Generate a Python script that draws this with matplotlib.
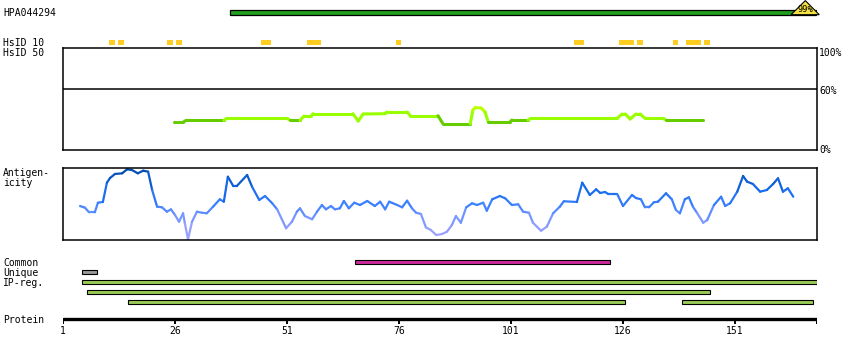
import numpy as np
import matplotlib.pyplot as plt
from matplotlib.collections import LineCollection
from matplotlib.colors import LinearSegmentedColormap

plt.rcParams['font.family'] = ['DejaVu Sans Mono', 'DejaVu Sans']
plt.rcParams['font.size'] = 7

# ---- data (residue positions / values) ----
protein_len = 169.3
tick_residues = [1, 26, 51, 76, 101, 126, 151]

antigen_name = 'HPA044294'
antigen_start, antigen_end = 38.3, 169.0
antigen_identity = '99%'

hsid10_starts = [11.3, 13.3, 24.2, 26.2, 45.2, 55.4, 75.3, 115.1, 125.1, 129.1, 137.2, 140.1, 144.1]
hsid10_ends = [12.6, 14.6, 25.6, 27.6, 47.4, 58.5, 76.4, 117.3, 128.5, 130.5, 138.3, 143.4, 145.4]

# HsID 50 identity curve (percent)
ident_res = [25.8, 27.8, 28.5, 36.9, 37.6, 51.0, 51.7, 53.9, 54.8, 56.4, 56.8, 65.7, 66.9,
             68.0, 72.9, 73.3, 77.8, 78.5, 84.7, 85.8, 91.9, 92.5, 93.0, 94.3, 95.2, 95.9,
             100.8, 101.2, 104.8, 105.5, 124.7, 125.8, 126.5, 127.6, 128.9, 129.8, 130.9,
             134.9, 135.6, 143.9]
ident_pct = [27.2, 27.2, 29.1, 29.1, 31.1, 31.1, 29.1, 29.1, 33.3, 33.3, 35.6, 35.6, 28.4,
             35.3, 35.6, 37.3, 37.3, 33.6, 33.6, 25.8, 25.8, 39.2, 41.5, 41.2, 37.3, 27.7,
             27.7, 29.4, 29.4, 31.1, 31.1, 35.3, 35.3, 30.4, 35.3, 35.3, 31.1,
             31.1, 29.4, 29.4]

# antigenicity profile (0-100 scale of the panel)
antig_res = [4.8, 5.9, 6.8, 8.1, 8.8, 9.9, 10.8, 11.5, 12.6, 14.2, 15.3, 16.4, 17.7, 18.9,
             20.0, 20.9, 22.0, 23.1, 24.2, 25.1, 26.0, 26.9, 27.8, 28.2, 28.9, 29.8, 30.9,
             32.0, 33.1, 34.5, 36.0, 36.9, 37.8, 39.0, 39.8, 42.1, 43.2, 44.8, 46.1, 47.7,
             48.8, 50.8, 52.1, 53.2, 53.9, 55.0, 56.6, 57.7, 58.8, 59.7, 60.8, 61.7, 62.8,
             63.7, 64.8, 66.0, 67.3, 68.9, 70.6, 71.8, 72.9, 73.8, 75.6, 76.7, 77.8, 78.9,
             79.8, 80.9, 82.0, 83.1, 84.3, 85.6, 86.7, 87.8, 88.7, 89.8, 91.0, 92.3, 93.4,
             94.8, 95.6, 96.8, 98.5, 99.7, 101.2, 102.6, 103.7, 105.0, 105.9, 107.7, 109.0,
             110.4, 111.9, 112.8, 115.7, 116.9, 118.6, 120.0, 120.9, 122.0, 122.7, 124.7,
             126.0, 128.0, 128.9, 130.0, 130.9, 131.8, 132.9, 133.8, 135.6, 136.9, 137.8,
             138.7, 139.8, 140.7, 141.6, 142.5, 143.9, 144.8, 146.3, 147.9, 148.8, 149.9,
             151.5, 152.8, 153.7, 155.0, 156.6, 158.1, 159.5, 160.6, 161.7, 162.8, 164.0]
antig_val = [47.2, 44.9, 38.5, 38.5, 51.8, 52.8, 79.6, 86.1, 91.7, 92.6, 98.2, 97.2, 92.6, 96.3,
             94.9, 69.4, 46.3, 45.4, 39.3, 42.6, 34.7, 25.4, 37.1, 23.2, 1.0, 25.4, 39.3,
             37.9, 37.1, 46.3, 56.5, 53.2, 87.9, 75.0, 75.0, 90.3, 74.0, 55.6, 61.1, 51.0,
             42.6, 16.3, 25.4, 39.3, 44.0, 33.3, 28.8, 39.3, 48.6, 42.6, 47.2, 42.6, 44.0,
             54.2, 44.0, 51.8, 48.6, 54.2, 47.2, 53.2, 42.6, 53.2, 48.6, 45.4, 54.6, 44.0,
             37.9, 36.1, 17.6, 13.9, 6.9, 8.3, 11.5, 20.8, 33.3, 24.0, 45.4, 51.0, 48.6,
             51.8, 40.7, 56.5, 61.1, 57.9, 48.6, 49.6, 39.3, 37.9, 24.0, 12.9, 18.5,
             37.1, 46.3, 53.8, 52.8, 79.6, 62.5, 70.4, 65.3, 66.7, 63.9, 63.9,
             47.2, 62.5, 58.3, 56.5, 45.4, 45.4, 52.4, 53.2, 64.9, 56.5, 41.7,
             37.1, 56.5, 59.3, 46.3, 37.9, 24.0, 27.8, 48.6, 60.1, 47.2, 51.0,
             67.1, 88.9, 81.0, 77.8, 67.1, 69.4, 77.8, 85.7, 67.1, 71.8, 60.1]

common_span = (66.2, 123.1)
unique_span = (5.2, 8.5)
ipreg_starts = [5.2, 6.4, 15.4, 139.2]
ipreg_ends = [169.3, 145.4, 126.4, 168.4]
ipreg_rows = [0, 1, 2, 2]

# ---- layout (pixels) ----
W, H = 850, 360
X0, X1 = 63, 817


def rect(x0, y0, x1, y1):
    return [x0 / W, 1 - y1 / H, (x1 - x0) / W, (y1 - y0) / H]


def label(x, y, s, **kw):
    fig.text(x / W, 1 - y / H, s, va='baseline', **kw)


fig = plt.figure(figsize=(W / 100, H / 100), dpi=100)

# track axes: x in residues, y in pixels (top down)
ax = fig.add_axes(rect(X0, 0, X1, H))
ax.set_xlim(1, protein_len)
ax.set_ylim(H, 0)
ax.axis('off')

# antigen bar + identity triangle
ax.barh(12.3, antigen_end - antigen_start, left=antigen_start, height=4.4,
        color='#1f9e1f', edgecolor='black', linewidth=0.9)
tri_x = [antigen_end - 5.5, antigen_end - 2.3, antigen_end + 0.8]
ax.fill(tri_x, [14.7, 0.6, 14.7], facecolor='#f2e044', edgecolor='black',
        linewidth=0.8, clip_on=False, zorder=3)
ax.text(tri_x[1], 12.0, antigen_identity, ha='center', va='baseline', fontsize=6.2, zorder=4)

# HsID 10 blocks
ax.barh([42.3] * len(hsid10_starts), np.subtract(hsid10_ends, hsid10_starts),
        left=hsid10_starts, height=4.7, color='#ffcc22', linewidth=0)

# features
ax.barh(262.3, common_span[1] - common_span[0], left=common_span[0], height=3.8,
        color='#cc2a9c', edgecolor='black', linewidth=0.8)
ax.barh(272.3, unique_span[1] - unique_span[0], left=unique_span[0], height=4.3,
        color='#999999', edgecolor='black', linewidth=0.8)
ip_y = [282.3 + 10 * r for r in ipreg_rows]
ax.barh(ip_y, np.subtract(ipreg_ends, ipreg_starts), left=ipreg_starts, height=4.3,
        color='#99cc55', edgecolor='black', linewidth=0.8)

# protein axis
ax.plot([1, protein_len], [319.3, 319.3], color='black', linewidth=2.4, solid_capstyle='butt')
ax.vlines(tick_residues + [protein_len], 317.5, 323.5, color='black', linewidth=1.4)
for t in tick_residues:
    ax.text(t, 334.3, str(t), ha='center', va='baseline')

# HsID 50 identity panel
ax_id = fig.add_axes(rect(X0, 48, X1, 150))
ax_id.set_xlim(1, protein_len)
ax_id.set_ylim(0, 100)
ax_id.set_facecolor('none')
ax_id.set_xticks([])
ax_id.set_yticks([])
for s in ax_id.spines.values():
    s.set_linewidth(1.1)
ax_id.axhline(60, color='black', linewidth=1.1)
pts = np.column_stack([ident_res, ident_pct])
segs = np.stack([pts[:-1], pts[1:]], axis=1)
mid = (pts[:-1, 1] + pts[1:, 1]) / 2
seg_cols = np.where(mid < 30, '#66cc00', np.where(mid < 39, '#99ff00', '#bbff00'))
ax_id.add_collection(LineCollection(segs, colors=seg_cols, linewidths=2.2, capstyle='round'))

label(X1 + 2, 55.7, '100%')
label(X1 + 2, 94.0, '60%')
label(X1 + 2, 153.3, '0%')

# antigenicity panel
ax_ag = fig.add_axes(rect(X0, 168, X1, 240))
ax_ag.set_xlim(1, protein_len)
ax_ag.set_ylim(0, 100)
ax_ag.set_facecolor('none')
ax_ag.set_xticks([])
ax_ag.set_yticks([])
for s in ax_ag.spines.values():
    s.set_linewidth(1.1)
cmap = LinearSegmentedColormap.from_list(
    'ag', [(0, '#aaa6ff'), (0.3, '#7c98ff'), (0.5, '#3a80ff'), (0.7, '#166aee'), (1, '#0048a8')])
pts = np.column_stack([antig_res, antig_val])
segs = np.stack([pts[:-1], pts[1:]], axis=1)
mid = (pts[:-1, 1] + pts[1:, 1]) / 2 / 100
ax_ag.add_collection(LineCollection(segs, colors=cmap(mid), linewidths=1.6, capstyle='round'))

# left labels
label(3, 16.0, antigen_name)
label(3, 45.7, 'HsID 10')
label(3, 55.7, 'HsID 50')
label(3, 176.5, 'Antigen-')
label(3, 186.0, 'icity')
label(3, 266.0, 'Common')
label(3, 275.7, 'Unique')
label(3, 285.7, 'IP-reg.')
label(3, 322.7, 'Protein')

fig.savefig('out.png', dpi=100)
